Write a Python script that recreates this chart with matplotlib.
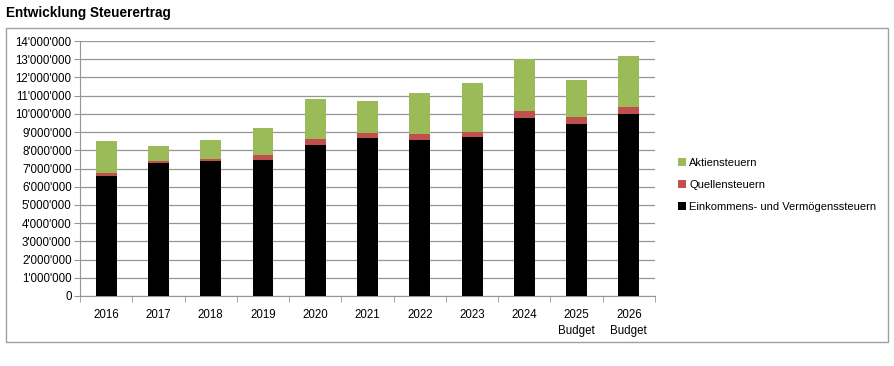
import numpy as np
import matplotlib
matplotlib.use("Agg")
import matplotlib.pyplot as plt
from matplotlib.patches import Rectangle
from matplotlib.ticker import FuncFormatter, MultipleLocator

YEARS = ["2016", "2017", "2018", "2019", "2020", "2021", "2022", "2023",
         "2024", "2025\nBudget", "2026\nBudget"]
# stacked segments (CHF)
EINKOMMEN = [6.60e6, 7.28e6, 7.41e6, 7.45e6, 8.31e6, 8.66e6, 8.59e6, 8.71e6,
             9.79e6, 9.46e6, 9.98e6]
QUELLEN = [0.18e6, 0.12e6, 0.13e6, 0.27e6, 0.29e6, 0.31e6, 0.32e6, 0.28e6,
           0.39e6, 0.37e6, 0.40e6]
AKTIEN = [1.75e6, 0.84e6, 1.04e6, 1.52e6, 2.20e6, 1.74e6, 2.22e6, 2.73e6,
          2.82e6, 2.01e6, 2.77e6]

GREEN = "#9bbb59"
RED = "#c0504d"
BLACK = "#000000"
GRID = "#969696"

plt.rcParams["font.family"] = ["Liberation Sans", "DejaVu Sans"]

fig = plt.figure(figsize=(8.94, 3.66), dpi=100)
fig.patches.append(Rectangle((6 / 894, 1 - 342 / 366), 882 / 894, 314 / 366,
                             transform=fig.transFigure, fill=False,
                             edgecolor="#a0a0a0", lw=1.0))
fig.text(6 / 894, 1 - 13 / 366, "Entwicklung Steuerertrag", fontsize=9.8,
         fontweight="bold", va="center", ha="left")

ax = fig.add_axes([80 / 894, 1 - 296 / 366, 575 / 894, 255 / 366])
x = np.arange(len(YEARS))
w = 0.4
b1 = np.array(EINKOMMEN)
b2 = b1 + np.array(QUELLEN)
ax.bar(x, EINKOMMEN, w, color=BLACK, label="Einkommens- und Vermögenssteuern",
       zorder=3)
ax.bar(x, QUELLEN, w, bottom=b1, color=RED, label="Quellensteuern", zorder=3)
ax.bar(x, AKTIEN, w, bottom=b2, color=GREEN, label="Aktiensteuern", zorder=3)

ax.set_xlim(-0.5, len(YEARS) - 0.5)
ax.set_ylim(0, 14e6)
ax.yaxis.set_major_locator(MultipleLocator(1e6))
ax.yaxis.set_major_formatter(FuncFormatter(
    lambda v, p: f"{int(round(v)):,}".replace(",", "'")))
ax.grid(axis="y", color=GRID, lw=0.9, zorder=0)
for s in ["top", "right"]:
    ax.spines[s].set_visible(False)
ax.spines["left"].set_color(GRID)
ax.spines["bottom"].set_color(GRID)
ax.tick_params(axis="y", length=4, color=GRID, labelsize=8.3, pad=2)
ax.set_xticks(x)
ax.set_xticklabels(YEARS, fontsize=8.3)
for t in ax.get_xticklabels():
    t.set_linespacing(1.45)
ax.tick_params(axis="x", length=0, pad=9)
ax.set_xticks(np.arange(-0.5, len(YEARS)), minor=True)
ax.tick_params(axis="x", which="minor", length=4, color=GRID)

handles, labels = ax.get_legend_handles_labels()
fig.legend(handles[::-1], labels[::-1], loc="center left",
           bbox_to_anchor=(668 / 894, 1 - 185 / 366), frameon=False,
           fontsize=8, handlelength=0.7, handleheight=0.7, handletextpad=0.3,
           labelspacing=1.1)

fig.savefig("out.png", dpi=100)
